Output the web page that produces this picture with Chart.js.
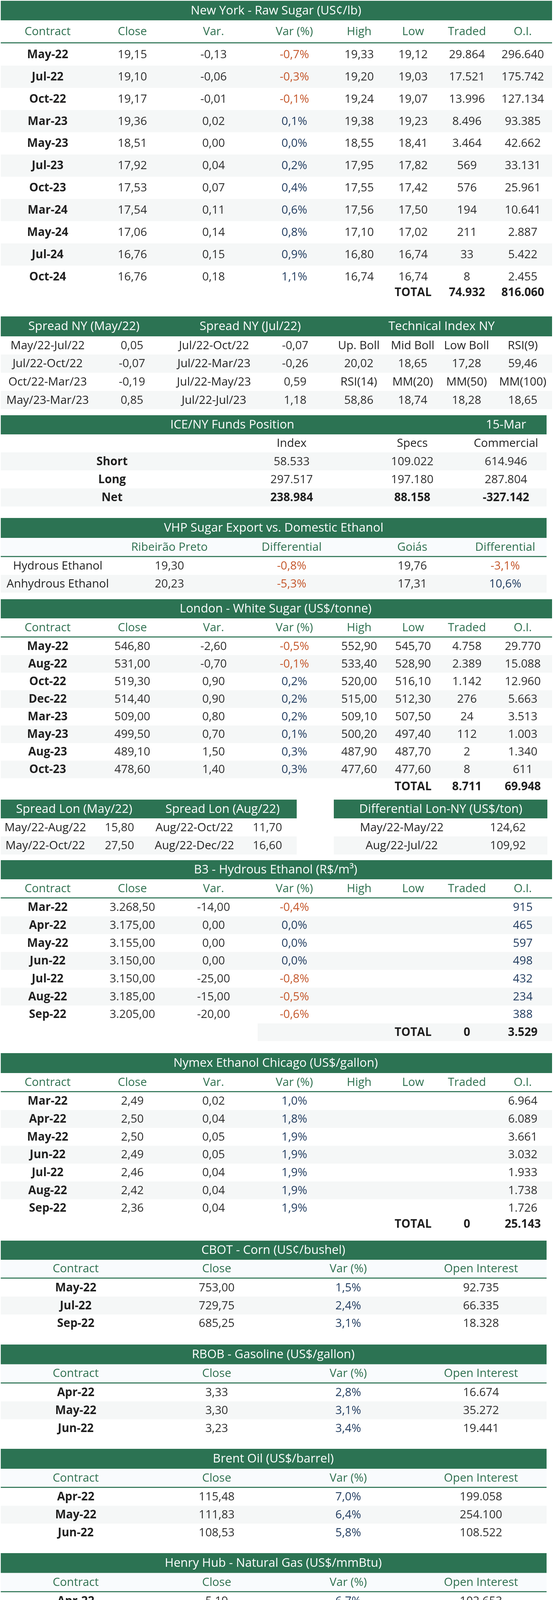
<!DOCTYPE html>
<html>
<head>
<meta charset="utf-8">
<script src="https://cdn.jsdelivr.net/npm/chart.js@4.4.1/dist/chart.umd.min.js"></script>
<style>
html,body{margin:0;padding:0;background:#fff;}
canvas{display:block;}
</style>
</head>
<body>
<canvas id="c" width="1419" height="6362" style="width:1419px;height:6362px"></canvas>
<script>
// ================= DATA =================
const futHeaders = ['Contract','Close','Var.','Var (%)','High','Low','Traded','O.I.'];

// New York - Raw Sugar
const nyContracts = ['May-22','Jul-22','Oct-22','Mar-23','May-23','Jul-23','Oct-23','Mar-24','May-24','Jul-24','Oct-24'];
const nyClose  = [19.15,19.10,19.17,19.36,18.51,17.92,17.53,17.54,17.06,16.76,16.76];
const nyVar    = [-0.13,-0.06,-0.01,0.02,0.00,0.04,0.07,0.11,0.14,0.15,0.18];
const nyVarPct = [-0.7,-0.3,-0.1,0.1,0.0,0.2,0.4,0.6,0.8,0.9,1.1];
const nyHigh   = [19.33,19.20,19.24,19.38,18.55,17.95,17.55,17.56,17.10,16.80,16.74];
const nyLow    = [19.12,19.03,19.07,19.23,18.41,17.82,17.42,17.50,17.02,16.74,16.74];
const nyTraded = [29864,17521,13996,8496,3464,569,576,194,211,33,8];
const nyOI     = [296640,175742,127134,93385,42662,33131,25961,10641,2887,5422,2455];
const nyTotals = [74932,816060];

// Spreads / technical NY
const spreadNyMayLabels = ['May/22-Jul/22','Jul/22-Oct/22','Oct/22-Mar/23','May/23-Mar/23'];
const spreadNyMayValues = [0.05,-0.07,-0.19,0.85];
const spreadNyJulLabels = ['Jul/22-Oct/22','Jul/22-Mar/23','Jul/22-May/23','Jul/22-Jul/23'];
const spreadNyJulValues = [-0.07,-0.26,0.59,1.18];
const techLabelsA = ['Up. Boll','Mid Boll','Low Boll','RSI(9)'];
const techValuesA = [20.02,18.65,17.28,59.46];
const techLabelsB = ['RSI(14)','MM(20)','MM(50)','MM(100)'];
const techValuesB = [58.86,18.74,18.28,18.65];

// ICE/NY Funds
const fundsDate = '15-Mar';
const fundsRows = ['Short','Long','Net'];
const fundsGroups = ['Index','Specs','Commercial'];
const fundsIndex = [58533,297517,238984];
const fundsSpecs = [109022,197180,88158];
const fundsCommercial = [614946,287804,-327142];

// VHP vs ethanol
const vhpProducts = ['Hydrous Ethanol','Anhydrous Ethanol'];
const vhpRibeirao = [19.30,20.23];
const vhpRibeiraoDiff = [-0.8,-5.3];
const vhpGoias = [19.76,17.31];
const vhpGoiasDiff = [-3.1,10.6];

// London - White Sugar
const lonContracts = ['May-22','Aug-22','Oct-22','Dec-22','Mar-23','May-23','Aug-23','Oct-23'];
const lonClose  = [546.80,531.00,519.30,514.40,509.00,499.50,489.10,478.60];
const lonVar    = [-2.60,-0.70,0.90,0.90,0.80,0.70,1.50,1.40];
const lonVarPct = [-0.5,-0.1,0.2,0.2,0.2,0.1,0.3,0.3];
const lonHigh   = [552.90,533.40,520.00,515.00,509.10,500.20,487.90,477.60];
const lonLow    = [545.70,528.90,516.10,512.30,507.50,497.40,487.70,477.60];
const lonTraded = [4758,2389,1142,276,24,112,2,8];
const lonOI     = [29770,15088,12960,5663,3513,1003,1340,611];
const lonTotals = [8711,69948];

// London spreads
const spreadLonMayLabels = ['May/22-Aug/22','May/22-Oct/22'];
const spreadLonMayValues = [15.80,27.50];
const spreadLonAugLabels = ['Aug/22-Oct/22','Aug/22-Dec/22'];
const spreadLonAugValues = [11.70,16.60];
const diffLonNyLabels = ['May/22-May/22','Aug/22-Jul/22'];
const diffLonNyValues = [124.62,109.92];

// B3 Hydrous Ethanol
const b3Contracts = ['Mar-22','Apr-22','May-22','Jun-22','Jul-22','Aug-22','Sep-22'];
const b3Close  = [3268.50,3175.00,3155.00,3150.00,3150.00,3185.00,3205.00];
const b3Var    = [-14.00,0.00,0.00,0.00,-25.00,-15.00,-20.00];
const b3VarPct = [-0.4,0.0,0.0,0.0,-0.8,-0.5,-0.6];
const b3OI     = [915,465,597,498,432,234,388];
const b3Totals = [0,3529];

// Nymex Ethanol Chicago
const nymexContracts = ['Mar-22','Apr-22','May-22','Jun-22','Jul-22','Aug-22','Sep-22'];
const nymexClose  = [2.49,2.50,2.50,2.49,2.46,2.42,2.36];
const nymexVar    = [0.02,0.04,0.05,0.05,0.04,0.04,0.04];
const nymexVarPct = [1.0,1.8,1.9,1.9,1.9,1.9,1.9];
const nymexOI     = [6964,6089,3661,3032,1933,1738,1726];
const nymexTotals = [0,25143];

// Small futures tables
const smallHeaders = ['Contract','Close','Var (%)','Open Interest'];
const cornContracts = ['May-22','Jul-22','Sep-22'];
const cornClose = [753.00,729.75,685.25];
const cornVarPct = [1.5,2.4,3.1];
const cornOI = [92735,66335,18328];
const rbobContracts = ['Apr-22','May-22','Jun-22'];
const rbobClose = [3.33,3.30,3.23];
const rbobVarPct = [2.8,3.1,3.4];
const rbobOI = [16674,35272,19441];
const brentContracts = ['Apr-22','May-22','Jun-22'];
const brentClose = [115.48,111.83,108.53];
const brentVarPct = [7.0,6.4,5.8];
const brentOI = [199058,254100,108522];
const gasContracts = ['Apr-22','May-22','Jun-22'];
const gasClose = [5.19,5.23,5.27];
const gasVarPct = [6.7,6.6,6.5];
const gasOI = [102653,74900,19974];

// CEPEA / ESALQ
const sugarSpLabels = ['White (50 kg bag)','Packed white (5 kg bag)','Refined amorf (1 kg bag)'];
const sugarSpValues = [139.36,15.67,3.43];
const sugarSpVar = [0.0,-0.2,-0.3];
const ethSpLabels = ['Hydrous Paulinia - Daily','Hydrous SP - Weekly','Anhydrous SP - Weekly'];
const ethSpValues = [3.34,3.28,3.63];
const ethSpVar = [0.0,3.9,8.4];
const ethCsLabels = ['Hydrous Goiás','Anhydrous Goiás','Hydrous Mato Grosso','Anhydrous Mato Grosso'];
const ethCsValues = [3.23,2.90,4.188,null];
const ethCsVar = [6.7,7.0,11.0,null];
const ethNeLabels = ['Hydrous Pernambuco','Anhydrous Pernambuco','Hydrous Alagoas','Anhydrous Alagoas'];
const ethNeValues = [3.37,null,3.34,null];
const ethNeVar = [6.4,null,6.2,null];
const consecanaHeaders = ['SP (Dec/21)','PR (Jan/22)'];
const consecanaLabels = ['ATR Price (R$/kg)','Accumulated ATR (R$/kg)','Cane/Field (R$/ton)'];
const consecanaSP = [1.33,1.18,129.35];
const consecanaPR = [1.21,0.99,109.32];

// StoneX
const exmillTypes = ['Hydrous','Anhydrous'];
const exmillCities = ['Ribeirão Preto','Paulínia','Araçatuba','Catanduva'];
const exmillHydrous = [3.95,4.00,3.93,3.94];
const exmillAnhydrous = [3.80,3.85,3.78,3.79];
const premiumDates = ['22-Mar','17-Mar'];
const premiumLabels = ['VHP vs NY K2 (US¢/lb)','150 vs NY K2 (US$/ton)'];
const premiumMar22 = [0.43,90.00];
const premiumMar17 = [0.43,95.00];
const domesticDate = '18-Mar';
const domesticStates = ['Goiás','Pernambuco','Alagoas'];
const domesticPrices = [131.20,137.65,134.16];
const usaDiffLabels = ['CBOT Ethanol - B3 Ethanol','RBOB Gasoline - CBOT Ethanol','CBOT Ethanol - CBOT Corn'];
const usaDiffValues = [-0.03,0.85,-0.25];
const usaMarginLabel = 'Weekly ethanol plant margin';
const usaMarginPct = 26.6;

// ANP Rack prices
const anpHeaders = ['Ethanol','Gasoline','Ethanol/Gasoline'];
const anpStates = ['São Paulo','Minas Gerais','Paraná','Goiás','Mato Grosso do Sul','Mato Grosso','Rio Grande do Sul','Pernambuco','Alagoas','Paraíba','Bahia'];
const anpEthanol = [4.69,5.07,5.26,4.93,5.08,4.62,6.24,5.36,5.16,5.06,5.47];
const anpGasoline = [6.87,7.54,7.26,7.46,7.04,7.06,6.98,7.30,7.24,7.04,7.52];
const anpRatio = [68.4,67.3,72.4,66.1,72.2,65.4,89.5,73.4,71.2,72.0,72.7];

// Carbon intensity LCFS
const lcfsHeaders = ['Date','Av. Value (US$)','Vol. (ton of CO2eq.)','Value (US$/gallon)','BRL/m³ eq.'];
const lcfsDates = ['02/28/22','03/07/22','03/14/22'];
const lcfsAvValue = [161.52,152.24,154.02];
const lcfsVolume = [551310,334571,268143];
const lcfsPerGallon = [0.35,0.33,0.33];
const lcfsBrl = [451.71,425.75,430.73];

// RenovaBio CBIO
const cbioHeaders = ['Traded','Volume of CBIOs','Weighted avg price','Minimum','Maximum'];
const cbioTraded = [7114];
const cbioVolume = [13205238];
const cbioAvg = [84.25];
const cbioMin = [31.99];
const cbioMax = [101.50];

// ================= STYLE =================
const C = {green:'#2c7353', head:'#2d6f4e', label:'#1f1f1f', num:'#2e2e2e',
  red:'#c4562a', navy:'#1f3a5e', gray:'#f5f7f7', light:'#f9fbfd', white:'#ffffff'};
const FONT = '"Open Sans", "Noto Sans", "DejaVu Sans", sans-serif';
const BODY = 29.5, TITLE = 31;

// ================= HELPERS =================
function fmt(v, d){
  if (v === null || v === undefined) return '-';
  const neg = v < 0;
  let s = Math.abs(v).toFixed(d);
  let parts = s.split('.');
  let i = parts[0].replace(/\B(?=(\d{3})+(?!\d))/g, '.');
  return (neg ? '-' : '') + i + (parts[1] ? ',' + parts[1] : '');
}
function fmtAuto(v){ if (v===null) return '-'; return fmt(v, Math.round(v*100)/100 === v ? 2 : 3); }
function pct(v){ return v===null ? '-' : fmt(v,1)+'%'; }
function pctCell(v, w){ return {t:pct(v), c: v===null ? C.num : (v<0 ? C.red : C.navy), w:w||400}; }
function num(v,d,o){ return Object.assign({t: d===undefined ? fmtAuto(v) : fmt(v,d)}, o||{}); }
function lab(t,w){ return {t:t, c:C.label, w:w||600}; }

const ops = [];
function rect(x0,y0,x1,y1,color){ ops.push({k:'r',x0,y0,x1,y1,color}); }
function text(t,x,y,o){ o=o||{}; ops.push({k:'t',t,x,y,c:o.c||C.num,w:o.w||400,s:o.s||BODY}); }
function titleBar(x0,x1,y0,y1,items){
  rect(x0,y0,x1,y1,C.green);
  items.forEach(([t,x])=>text(t,x,(y0+y1)/2,{c:'#ffffff',s:TITLE}));
}
function headRow(x0,x1,y0,y1,items,o){
  o=o||{};
  if (o.bg) rect(x0,y0,x1,y1,o.bg);
  items.forEach(([t,x])=>text(t,x,(y0+y1)/2,{c:o.c||C.head,w:o.w||400}));
  if (o.line!==false) rect(x0,y1,x1,y1+2.7,C.green);
}
function dataRows(x0,x1,y0,rh,rows,cols,o){
  o=o||{};
  let ya=y0;
  rows.forEach((cells,i)=>{
    const h = Array.isArray(rh) ? rh[i] : rh;
    const yb=ya+h;
    const gray = ((i%2)===1) !== !!o.grayFirst;
    if (gray) rect(x0,ya,x1,yb,C.gray);
    cells.forEach((cell,j)=>{
      if (!cell || cell.t===undefined || cell.t==='') return;
      const cx = (o.xOverride && o.xOverride[i+','+j]) || cols[j];
      text(cell.t,cx,(ya+yb)/2,cell);
    });
    ya=yb;
  });
  return ya;
}
function futRows(contracts, close, vr, vp, high, low, traded, oi, oiColor){
  return contracts.map((c,i)=>[
    lab(c,700), num(close[i],2), num(vr[i],2), pctCell(vp[i]),
    high ? num(high[i],2) : null, low ? num(low[i],2) : null,
    traded ? num(traded[i],0) : null, num(oi[i],0,{c:oiColor||C.num})
  ]);
}
const cols8 = [122,339,547,754,920,1058,1196,1339];
const head8 = futHeaders.map((h,i)=>[h,cols8[i]]);
function totalRow(y, vals){
  text('TOTAL',cols8[5],y,{c:C.label,w:700});
  text(fmt(vals[0],0),cols8[6],y,{c:C.label,w:700});
  text(fmt(vals[1],0),cols8[7],y,{c:C.label,w:700});
}

// ================= LAYOUT =================
// New York raw sugar
titleBar(2,1414,2,52,[['New York - Raw Sugar (US¢/lb)',707]]);
headRow(2,1414,52,108.3,head8);
dataRows(2,1414,111,56.9,futRows(nyContracts,nyClose,nyVar,nyVarPct,nyHigh,nyLow,nyTraded,nyOI),cols8);
totalRow(749,nyTotals);

// Spreads & technical
titleBar(2,1414,810,861,[['Spread NY (May/22)',215],['Spread NY (Jul/22)',641],['Technical Index NY',1131]]);
const spreadRows = spreadNyMayLabels.map((l,i)=>{
  const techL = i===0 ? techLabelsA : i===2 ? techLabelsB : null;
  const techV = i===1 ? techValuesA : i===3 ? techValuesB : null;
  const tech = techL ? techL.map(t=>lab(t,500)) : techV.map(v=>num(v,2));
  return [lab(l,500), num(spreadNyMayValues[i],2), lab(spreadNyJulLabels[i],500), num(spreadNyJulValues[i],2)].concat(tech);
});
dataRows(2,1414,861,46.6,spreadRows,[122,338,548,756,919,1057,1195,1339]);

// ICE funds
titleBar(2,1400,1063,1112,[['ICE/NY Funds Position',595],[fundsDate,1296]]);
const fCols=[287,747,1056,1296];
headRow(2,1400,1112,1158,fundsGroups.map((g,i)=>[g,fCols[i+1]]),{c:C.label,w:500,line:false});
dataRows(2,1400,1158,46.2,fundsRows.map((r,i)=>{
  const b = r==='Net' ? 700 : 400; const cc = r==='Net' ? C.label : C.num;
  return [lab(r,700), num(fundsIndex[i],0,{w:b,c:cc}), num(fundsSpecs[i],0,{w:b,c:cc}), num(fundsCommercial[i],0,{w:b,c:cc})];
}),fCols,{grayFirst:true});

// VHP vs ethanol
titleBar(2,1400,1326,1377,[['VHP Sugar Export vs. Domestic Ethanol',701]]);
const vCols=[148,434,747,1056,1294];
headRow(2,1400,1377,1423.4,[['Ribeirão Preto',434],['Differential',747],['Goiás',1056],['Differential',1294]],{bg:C.light});
dataRows(2,1400,1426,45.6,vhpProducts.map((p,i)=>[lab(p,500),num(vhpRibeirao[i],2),pctCell(vhpRibeiraoDiff[i]),num(vhpGoias[i],2),pctCell(vhpGoiasDiff[i])]),vCols);

// London
titleBar(2,1414,1534,1583,[['London - White Sugar (US$/tonne)',706]]);
headRow(2,1414,1583,1629.3,head8);
dataRows(2,1414,1632,45.05,futRows(lonContracts,lonClose,lonVar,lonVarPct,lonHigh,lonLow,lonTraded,lonOI),cols8);
totalRow(2014,lonTotals);

// London spreads
titleBar(2,760,2047,2095,[['Spread Lon (May/22)',190],['Spread Lon (Aug/22)',570]]);
titleBar(855,1402,2047,2095,[['Differential Lon-NY (US$/ton)',1129]]);
dataRows(2,760,2095,46.3,spreadLonMayLabels.map((l,i)=>[lab(l,500),num(spreadLonMayValues[i],2),lab(spreadLonAugLabels[i],500),num(spreadLonAugValues[i],2)]),[116,306,498,685]);
dataRows(855,1402,2095,46.3,diffLonNyLabels.map((l,i)=>[lab(l,500),num(diffLonNyValues[i],2)]),[1029,1301]);

// B3
titleBar(2,1414,2202,2251,[['B3 - Hydrous Ethanol (R$/m³)',706]]);
headRow(2,1414,2251,2297.3,head8);
dataRows(2,1414,2300,45.7,futRows(b3Contracts,b3Close,b3Var,b3VarPct,null,null,null,b3OI,C.navy),cols8);
rect(660,2620,1414,2665,C.gray);
totalRow(2642.5,b3Totals);

// Nymex
titleBar(2,1414,2696,2747,[['Nymex Ethanol Chicago (US$/gallon)',706]]);
headRow(2,1414,2747,2793.3,head8);
dataRows(2,1414,2796,45.7,futRows(nymexContracts,nymexClose,nymexVar,nymexVarPct,null,null,null,nymexOI),cols8);
totalRow(3134,nymexTotals);

// Small futures tables
const cols4=[194,555,892,1232];
function smallTable(title,y0,y1,y2,rh,contracts,close,vp,oi){
  titleBar(2,1400,y0,y1,[[title,700]]);
  headRow(2,1400,y1,y2,smallHeaders.map((h,i)=>[h,cols4[i]]),{bg:C.light});
  dataRows(2,1400,y2+2.7,rh,contracts.map((c,i)=>[lab(c,700),num(close[i],2),pctCell(vp[i]),num(oi[i],0)]),cols4);
}
smallTable('CBOT - Corn (US¢/bushel)',3176,3225,3270.6,45.9,cornContracts,cornClose,cornVarPct,cornOI);
smallTable('RBOB - Gasoline (US$/gallon)',3442,3492.7,3539,45.8,rbobContracts,rbobClose,rbobVarPct,rbobOI);
smallTable('Brent Oil (US$/barrel)',3709,3760,3806.3,45.7,brentContracts,brentClose,brentVarPct,brentOI);
smallTable('Henry Hub - Natural Gas (US$/mmBtu)',3976,4026.8,4073.4,45.4,gasContracts,gasClose,gasVarPct,gasOI);

// CEPEA / ESALQ (left)
const cCols=[179,443,618];
titleBar(2,708,4227,4275.5,[['CEPEA/ESALQ Indicators',355]]);
headRow(2,708,4275.5,4321,[['Sugar - São Paulo',179],['R$',443],['Variation',618]],{bg:C.light});
const sugarBold=[true,false,true];
dataRows(2,708,4323.5,45.2,sugarSpLabels.map((l,i)=>[lab(l,500),num(sugarSpValues[i],2),pctCell(sugarSpVar[i],sugarBold[i]?700:400)]),cCols);
headRow(2,708,4459,4504.4,[['Ethanol São Paulo',179],['R$/L',443],['Variation',618]],{bg:C.light});
const ethSpBold=[true,false,true];
dataRows(2,708,4507,45.1,ethSpLabels.map((l,i)=>[lab(l,500),num(ethSpValues[i],2),pctCell(ethSpVar[i],ethSpBold[i]?700:400)]),cCols);
headRow(2,708,4642.3,4688,[['Ethanol - Center-South',179],['R$/L',443],['Variation',618]],{bg:C.light});
const ethCsBold=[true,false,false,false];
dataRows(2,708,4690.6,45.35,ethCsLabels.map((l,i)=>[lab(l,500),{t:fmtAuto(ethCsValues[i])},pctCell(ethCsVar[i],ethCsBold[i]?700:400)]),cCols,{xOverride:{'2,1':477}});
headRow(2,708,4872,4917.7,[['Ethanol - Northeast',179],['R$/L',443],['Variation',618]],{bg:C.light});
dataRows(2,708,4920,[44.4,44.6,31.5,50.5],ethNeLabels.map((l,i)=>[lab(l,500),{t:fmtAuto(ethNeValues[i])},pctCell(ethNeVar[i],700)]),cCols);
titleBar(2,708,5091,5136,[['CONSECANA Indicators',353]]);
headRow(2,708,5136,5180.7,[[consecanaHeaders[0],443],[consecanaHeaders[1],618]],{bg:C.light});
dataRows(2,708,5183,45,consecanaLabels.map((l,i)=>[lab(l,500),num(consecanaSP[i],2),num(consecanaPR[i],2)]),cCols);
rect(2,5317.5,708,5319.5,'#eef1f1');

// StoneX (right)
const sCols=[900,1165,1324];
titleBar(723,1400,4227,4275.5,[['StoneX Indicators',1061.5]]);
headRow(723,1400,4275.5,4321,[['Ex-mill Ethanol Prices: São Paulo (R$/L)',1061]],{bg:C.light});
dataRows(723,1400,4323.5,45.5,[[null,lab(exmillTypes[0],500),lab(exmillTypes[1],500)]].concat(
  exmillCities.map((c,i)=>[lab(c,500),num(exmillHydrous[i],2),num(exmillAnhydrous[i],2)])),sCols);
headRow(723,1400,4551,4596,[['Sugar Premium: FOB Santos-SP',1061]],{bg:C.light});
dataRows(723,1400,4598.4,45.6,[[null,lab(premiumDates[0],500),lab(premiumDates[1],500)]].concat(
  premiumLabels.map((l,i)=>[lab(l,500),num(premiumMar22[i],2),num(premiumMar17[i],2)])),sCols);
headRow(723,1400,4780,4824.8,[['Domestic Sugar Prices (R$/50kg bag)',1061]],{bg:C.light});
dataRows(723,1400,4827.5,45.9,[[null,lab(domesticDate,500)]].concat(
  domesticStates.map((s,i)=>[lab(s,500),num(domesticPrices[i],2)])),sCols);
titleBar(723,1400,5041,5090.5,[['USA Ethanol Differentials (US$/gallon)',1061.5]]);
dataRows(723,1400,5090.5,46,usaDiffLabels.map((l,i)=>[lab(l,500),num(usaDiffValues[i],2,{c:usaDiffValues[i]<0?C.red:C.num})])
  .concat([[lab(usaMarginLabel,500),pctCell(usaMarginPct)]]),[986,1321]);

// ANP
const aCols=[195,559,903,1244];
titleBar(2,1417,5330,5379,[['ANP - Rack Prices (R$/L)',708]]);
headRow(2,1417,5379,5426,anpHeaders.map((h,i)=>[h,aCols[i+1]]),{bg:C.light});
dataRows(2,1417,5428.5,46.4,anpStates.map((s,i)=>[lab(s,600),num(anpEthanol[i],2),num(anpGasoline[i],2),{t:pct(anpRatio[i]),c:anpRatio[i]>70?C.red:C.navy}]),aCols);

// Carbon intensity
const lCols=[149,436,748,1056,1295];
titleBar(2,1400,5947,5995,[['Carbon Intensity - LCFS California',700]]);
headRow(2,1400,5995,6041.3,lcfsHeaders.map((h,i)=>[h,lCols[i]]),{bg:C.light});
dataRows(2,1400,6044,45.5,lcfsDates.map((d,i)=>[lab(d,700),num(lcfsAvValue[i],2),num(lcfsVolume[i],0),num(lcfsPerGallon[i],2),num(lcfsBrl[i],2)]),lCols);

// RenovaBio
titleBar(2,1400,6210,6260.4,[['RenovaBio - CBIO sales (2022)',700]]);
headRow(2,1400,6260.4,6309.4,cbioHeaders.map((h,i)=>[h,lCols[i]]),{bg:C.light});
dataRows(2,1400,6312,46,cbioTraded.map((t,i)=>[num(t,0),num(cbioVolume[i],0),{t:'R$ '+fmt(cbioAvg[i],2)},{t:'R$ '+fmt(cbioMin[i],2)},{t:'R$ '+fmt(cbioMax[i],2)}]),[149,436,748,1056,1294]);

// ================= CHART =================
const tablePlugin = {
  id: 'tables',
  beforeDraw(chart){
    const ctx = chart.ctx;
    ctx.save(); ctx.fillStyle = '#ffffff'; ctx.fillRect(0,0,chart.width,chart.height); ctx.restore();
  },
  afterDraw(chart){
    const ctx = chart.ctx, xs = chart.scales.x, ys = chart.scales.y;
    ctx.save();
    ops.forEach(op=>{
      if (op.k==='r'){
        const X0=xs.getPixelForValue(op.x0), X1=xs.getPixelForValue(op.x1);
        const Y0=ys.getPixelForValue(op.y0), Y1=ys.getPixelForValue(op.y1);
        ctx.fillStyle=op.color;
        ctx.fillRect(X0,Y0,X1-X0,Y1-Y0);
      }
    });
    ctx.textAlign='center';
    ctx.textBaseline='middle';
    ops.forEach(op=>{
      if (op.k==='t'){
        ctx.font = op.w+' '+op.s+'px '+FONT;
        ctx.fillStyle = op.c;
        ctx.fillText(op.t, xs.getPixelForValue(op.x), ys.getPixelForValue(op.y)+1);
      }
    });
    ctx.restore();
  }
};

function build(){
  new Chart(document.getElementById('c'), {
    type: 'scatter',
    data: { datasets: [{ data: [], pointRadius: 0 }] },
    options: {
      responsive: false,
      animation: false,
      events: [],
      layout: { padding: 0 },
      plugins: { legend: { display: false }, tooltip: { enabled: false } },
      scales: {
        x: { type: 'linear', min: 0, max: 1419, display: false },
        y: { type: 'linear', min: 0, max: 6362, reverse: true, display: false }
      }
    },
    plugins: [tablePlugin]
  });
}
if (document.fonts && document.fonts.load) {
  Promise.all([document.fonts.load('400 29px "Open Sans"'),document.fonts.load('700 29px "Open Sans"'),document.fonts.load('600 29px "Open Sans"')])
    .then(build, build);
} else { build(); }
</script>
</body>
</html>
